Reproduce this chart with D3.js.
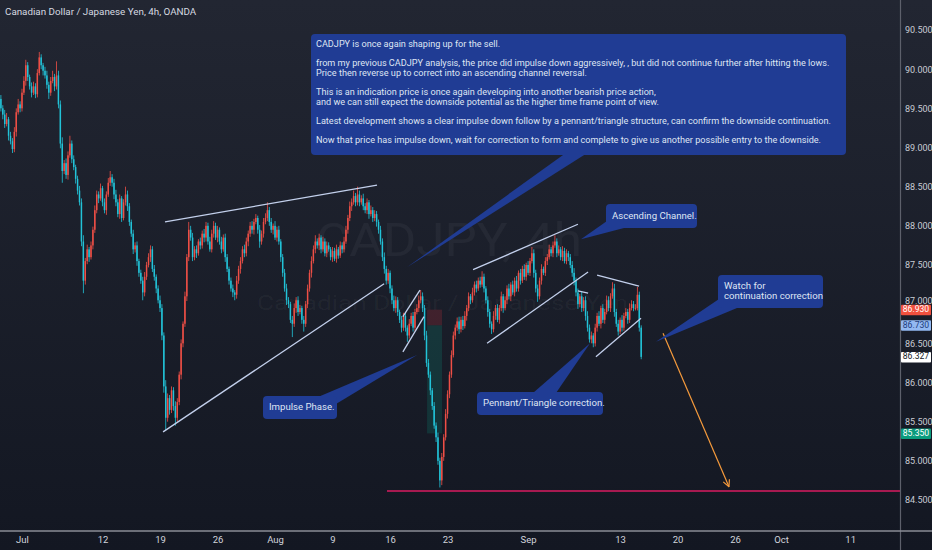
<!doctype html>
<html lang="en">
<head>
  <meta charset="utf-8">
  <title>CADJPY 4h</title>
  <style>
    html, body {
      margin: 0;
      padding: 0;
      background: #131722;
      overflow: hidden;
    }
    svg {
      display: block;
      font-family: Roboto, "Noto Sans", sans-serif;
    }
  </style>
</head>
<body>
  <svg id="chart" width="932" height="550"></svg>

  <script src="https://d3js.org/d3.v7.min.js"></script>
  <script>
    // ---- data ----
    // 4h candles, one close per candle; open = previous close
    const firstOpen = 89.62;
    const closes = [
      89.50,89.42,89.30,89.36,89.15,89.08,88.98,89.20,89.45,89.55,
      89.50,89.70,89.85,90.05,89.90,89.78,89.70,89.78,89.68,89.95,
      90.15,90.05,89.98,89.92,89.80,89.70,89.85,89.90,89.78,89.92,
      89.55,89.05,88.70,88.80,88.65,88.90,89.05,88.85,88.75,88.60,
      88.45,88.30,87.80,87.30,87.55,87.70,87.60,87.75,87.95,88.20,
      88.40,88.35,88.48,88.30,88.20,88.40,88.55,88.62,88.55,88.40,
      88.30,88.15,88.35,88.10,88.30,88.40,88.25,88.05,87.90,87.70,
      87.75,87.55,87.40,87.30,87.15,87.35,87.50,87.60,87.70,87.45,
      87.35,87.20,87.05,86.95,86.60,85.95,85.55,85.80,85.65,85.90,
      85.70,85.55,85.75,86.10,86.50,86.75,87.10,87.60,87.95,87.85,
      87.60,87.70,87.65,87.80,87.75,87.90,87.85,88.00,87.80,87.70,
      87.90,88.00,87.85,87.95,87.80,87.70,87.85,87.60,87.45,87.30,
      87.20,87.15,87.12,87.30,87.45,87.55,87.70,87.65,87.80,87.90,
      88.00,87.95,88.05,88.10,87.95,87.80,87.90,88.05,88.10,88.20,
      88.05,87.95,88.00,87.85,87.95,87.80,87.60,87.40,87.20,87.05,
      87.00,86.80,86.75,86.95,87.05,86.90,86.95,86.80,86.75,87.00,
      87.20,87.40,87.55,87.70,87.80,87.75,87.85,87.70,87.80,87.65,
      87.75,87.70,87.60,87.68,87.58,87.70,87.62,87.75,87.70,87.80,
      87.95,88.10,88.25,88.30,88.38,88.30,88.40,88.30,88.35,88.25,
      88.20,88.30,88.15,88.20,88.10,88.15,88.05,87.95,87.80,87.60,
      87.45,87.30,87.40,87.20,87.05,86.95,87.05,86.90,86.80,86.70,
      86.85,86.70,86.60,86.75,86.85,86.70,86.90,86.95,87.05,87.10,
      86.95,86.60,86.25,86.10,85.90,85.70,85.45,85.30,85.00,84.75,
      85.05,85.30,85.60,85.85,86.10,86.35,86.60,86.70,86.78,86.68,
      86.80,86.72,86.85,86.95,87.10,87.05,87.15,87.25,87.20,87.30,
      87.25,87.35,87.20,87.05,86.90,86.75,86.68,86.85,86.95,86.80,
      86.95,87.10,86.95,87.05,87.20,87.10,87.25,87.15,87.30,87.20,
      87.40,87.30,87.45,87.35,87.50,87.40,87.55,87.65,87.40,87.20,
      87.10,87.30,87.45,87.40,87.55,87.60,87.70,87.65,87.75,87.80,
      87.65,87.70,87.60,87.68,87.55,87.65,87.60,87.50,87.40,87.30,
      87.15,87.00,87.10,86.95,87.05,86.85,86.70,86.55,86.60,86.50,
      86.70,86.85,86.75,86.95,86.80,86.90,87.05,86.95,87.10,87.20,
      86.90,86.75,86.65,86.80,86.70,86.85,86.90,86.80,86.95,87.00,
      86.95,86.95,87.12,86.70,86.327
    ];
    // wick lengths above / below the body, in hundredths of a yen
    const wickUp = [
      5,4,6,8,3,5,4,6,5,7, 4,5,6,7,4,3,5,6,4,5, 7,4,3,5,6,4,5,8,4,18,
      6,5,8,4,6,5,10,4,5,3, 4,6,5,8,4,6,3,5,4,6, 5,4,6,3,5,4,6,8,4,5,
      6,4,5,3,4,10,5,4,3,5, 4,5,3,4,5,6,4,5,5,4, 5,3,4,6,5,4,8,6,4,5,
      4,6,5,4,5,3,6,4,10,5, 6,4,5,3,5,4,6,5,4,6, 5,6,4,5,3,6,4,5,4,3,
      4,5,3,6,4,5,4,6,5,4, 5,6,4,5,3,6,4,5,6,10, 4,5,3,6,4,5,3,4,5,6,
      4,3,5,6,4,5,4,3,5,4, 5,4,6,5,8,4,5,3,6,4, 5,4,3,5,4,6,3,5,4,6,
      5,4,6,5,7,4,10,5,4,6, 4,5,3,6,4,5,4,3,5,4, 6,4,5,3,4,6,5,4,3,5,
      4,5,3,6,4,5,4,5,6,8, 5,4,6,5,4,3,5,4,6,4, 5,4,6,5,4,6,5,4,5,6,
      4,5,6,4,5,3,6,4,5,4, 5,7,4,3,5,4,3,6,4,5, 4,6,3,5,4,6,3,5,4,6,
      3,5,4,6,3,5,4,8,5,4, 5,4,6,3,5,4,6,3,5,8, 4,5,3,6,4,5,3,4,5,6,
      4,5,3,6,4,5,6,4,5,3, 5,4,6,3,5,4,6,5,4,8, 6,4,5,3,6,4,5,4,6,5,
      4,5,10,4,3
    ];
    const wickDn = [
      4,6,5,3,6,4,5,4,6,3, 5,4,3,6,5,4,6,3,5,4, 3,5,6,4,5,8,4,3,6,4,
      5,6,15,4,5,6,3,5,4,6, 5,4,6,16,5,4,6,3,5,4, 4,6,3,5,4,6,3,4,5,6,
      5,4,6,5,3,4,6,5,4,6, 4,6,5,4,10,5,4,3,6,4, 5,6,4,5,6,8,16,5,6,4,
      6,10,5,4,6,5,4,6,5,4, 5,4,6,3,5,4,6,5,4,3, 4,5,3,6,4,5,3,6,4,5,
      4,6,7,5,4,6,3,5,4,6, 4,5,6,3,5,8,4,5,3,4, 5,4,6,3,5,4,6,5,4,6,
      5,4,17,4,6,5,3,5,10,4, 5,4,6,3,5,4,6,5,3,4, 5,3,4,6,3,5,4,3,5,4,
      3,5,4,6,3,5,4,5,3,5, 4,5,6,3,5,4,6,5,4,5, 6,5,4,6,5,4,6,5,4,6,
      4,5,8,4,3,5,4,3,5,4, 5,6,5,4,6,5,4,6,5,9, 6,5,4,6,5,4,3,5,4,6,
      4,5,3,6,4,5,3,4,5,3, 4,3,5,4,6,5,6,4,5,3, 5,4,6,3,5,4,6,3,5,4,
      4,5,3,4,5,3,4,3,6,5, 7,4,5,3,4,5,3,4,5,3, 5,3,4,5,3,4,5,4,5,6,
      5,6,4,5,4,6,5,4,5,5, 4,5,3,6,4,5,3,4,5,3, 6,4,5,3,5,4,3,5,4,3,
      4,3,3,5,3
    ];

    // axes
    const priceTicks = [84.5, 85, 85.5, 86, 86.5, 87, 87.5, 88, 88.5, 89, 89.5, 90, 90.5];
    const dateLabels = ["Jul", "12", "19", "26", "Aug", "9", "16", "23", "Sep", "13", "20", "26", "Oct", "11"];
    const dateIndex  = [11, 53, 83, 113, 143, 173, 203, 233, 275, 323, 353, 383, 407, 443];

    // price-line badges on the right axis: stop, entry, last, target
    const badgeValues = [86.930, 86.730, 86.327, 85.350];

    // drawings, as [candle index, price] pairs
    const trendLines = [
      [85.6, 88.05, 196.2, 88.52],
      [84.6, 85.37, 199.9, 87.26],
      [209.7, 86.84, 218.6, 87.18],
      [209.7, 86.39, 220.7, 86.84],
      [246.3, 87.44, 301.0, 88.02],
      [253.6, 86.50, 306.3, 87.41],
      [301.0, 87.17, 306.3, 87.14],
      [311.0, 87.37, 332.9, 87.23],
      [310.4, 86.33, 333.9, 86.82]
    ];
    const positionBox = { from: 222.3, to: 230.1, stop: 86.93, entry: 86.73, target: 85.35 };
    const targetLevel = { from: 201.4, price: 84.615 };
    const arrowPath = [[345.4, 86.63], [379.8, 84.67]];

    const mainNote = [
      "CADJPY is once again shaping up for the sell.",
      "from my previous CADJPY analysis, the price did impulse down aggressively, , but did not continue further after hitting the lows.",
      "Price then reverse up to correct into an ascending channel reversal.",
      "This is an indication price is once again developing into another bearish price action,",
      "and we can still expect the downside potential as the higher time frame point of view.",
      "Latest development shows a clear impulse down follow by a pennant/triangle structure, can confirm the downside continuation.",
      "Now that price has impulse down, wait for correction to form and complete to give us another possible entry to the downside."
    ];

    // ---- drawing ----
    const W = 932, H = 550, plotR = 900, plotB = 531;
    const svg = d3.select("#chart");

    const defs = svg.append("defs");
    const grad = defs.append("linearGradient").attr("id", "bg")
      .attr("x1", 0).attr("y1", 0).attr("x2", 0).attr("y2", 1);
    grad.append("stop").attr("offset", "0%").attr("stop-color", "#222632");
    grad.append("stop").attr("offset", "100%").attr("stop-color", "#131722");
    defs.append("clipPath").attr("id", "plot")
      .append("rect").attr("width", plotR).attr("height", plotB);
    defs.append("marker").attr("id", "head")
      .attr("viewBox", "0 0 10 10").attr("refX", 9).attr("refY", 5)
      .attr("markerWidth", 7).attr("markerHeight", 7).attr("orient", "auto")
      .append("path").attr("d", "M1,1 L9,5 L1,9").attr("fill", "none")
      .attr("stroke", "#f59a3c").attr("stroke-width", 1.4);

    svg.append("rect").attr("width", W).attr("height", H).attr("fill", "url(#bg)");

    const x = d3.scaleLinear().domain([0, 470]).range([0.9, 0.9 + 470 * 1.917]);
    const y = d3.scaleLinear().domain([84.5, 90.5]).range([500, 30]);

    const plot = svg.append("g").attr("clip-path", "url(#plot)");

    // watermark
    plot.append("text").attr("x", 316).attr("y", 256)
      .attr("textLength", 266).attr("lengthAdjust", "spacingAndGlyphs")
      .attr("font-size", 46).attr("fill", "rgba(255,255,255,0.045)")
      .text("CADJPY, 4h");
    plot.append("text").attr("x", 257).attr("y", 310)
      .attr("textLength", 371).attr("lengthAdjust", "spacingAndGlyphs")
      .attr("font-size", 21).attr("fill", "rgba(255,255,255,0.045)")
      .text("Canadian Dollar / Japanese Yen");

    // position tool
    plot.append("rect")
      .attr("x", x(positionBox.from)).attr("width", x(positionBox.to) - x(positionBox.from))
      .attr("y", y(positionBox.stop)).attr("height", y(positionBox.entry) - y(positionBox.stop))
      .attr("fill", "rgba(242,54,69,0.18)");
    plot.append("rect")
      .attr("x", x(positionBox.from)).attr("width", x(positionBox.to) - x(positionBox.from))
      .attr("y", y(positionBox.entry)).attr("height", y(positionBox.target) - y(positionBox.entry))
      .attr("fill", "rgba(8,153,129,0.2)");

    // candles
    const candles = closes.map((c, i) => {
      const o = i === 0 ? firstOpen : closes[i - 1];
      return {
        i, o, c,
        h: Math.max(o, c) + (wickUp[i] ?? 4) / 100,
        l: Math.min(o, c) - (wickDn[i] ?? 4) / 100
      };
    });
    const upCol = "#ef4f46", dnCol = "#22c3d8";

    const cg = plot.append("g");
    cg.selectAll("rect.wick").data(candles).enter().append("rect")
      .attr("class", "wick")
      .attr("x", d => x(d.i) - 0.4).attr("width", 0.8)
      .attr("y", d => y(d.h)).attr("height", d => y(d.l) - y(d.h))
      .attr("fill", d => d.c >= d.o ? upCol : dnCol);
    cg.selectAll("rect.body").data(candles).enter().append("rect")
      .attr("class", "body")
      .attr("x", d => x(d.i) - 0.75).attr("width", 1.5)
      .attr("y", d => y(Math.max(d.o, d.c)))
      .attr("height", d => Math.max(1, Math.abs(y(d.o) - y(d.c))))
      .attr("fill", d => d.c >= d.o ? upCol : dnCol);

    // trend lines
    plot.selectAll("line.trend").data(trendLines).enter().append("line")
      .attr("class", "trend")
      .attr("x1", d => x(d[0])).attr("y1", d => y(d[1]))
      .attr("x2", d => x(d[2])).attr("y2", d => y(d[3]))
      .attr("stroke", "#c3d0ec").attr("stroke-width", 1.3);

    // target level
    plot.append("line")
      .attr("x1", x(targetLevel.from)).attr("x2", plotR)
      .attr("y1", y(targetLevel.price)).attr("y2", y(targetLevel.price))
      .attr("stroke", "#d81b60").attr("stroke-width", 1.6);

    // arrow
    plot.append("line")
      .attr("x1", x(arrowPath[0][0])).attr("y1", y(arrowPath[0][1]))
      .attr("x2", x(arrowPath[1][0])).attr("y2", y(arrowPath[1][1]))
      .attr("stroke", "#f59a3c").attr("stroke-width", 1.2)
      .attr("marker-end", "url(#head)");

    // callouts
    const boxFill = "#203c94", noteText = "#dfe5f3";
    function callout(box, base, tip) {
      const g = svg.append("g");
      g.append("path")
        .attr("d", `M${base[0][0]},${base[0][1]} L${x(tip[0])},${y(tip[1])} L${base[1][0]},${base[1][1]} Z`)
        .attr("fill", boxFill);
      g.append("rect").attr("x", box.x).attr("y", box.y)
        .attr("width", box.w).attr("height", box.h).attr("rx", 4)
        .attr("fill", boxFill);
      return g;
    }

    const main = callout({ x: 311, y: 34, w: 535, h: 121 }, [[570, 150], [592, 150]], [211.8, 87.47]);
    const lineY = [45, 63.5, 73.5, 92.5, 102.5, 122, 141];
    const mt = main.selectAll("text").data(mainNote).enter().append("text")
      .attr("x", 316).attr("y", (d, i) => lineY[i])
      .attr("dominant-baseline", "middle")
      .attr("font-size", 10).attr("fill", noteText)
      .text(d => d);
    // fit the widest line to the box width
    const widest = mt.nodes()[1].getComputedTextLength();
    mt.attr("font-size", 10 * 514 / widest);

    const smallNotes = [
      { box: { x: 606, y: 204, w: 91, h: 24 }, base: [[607, 221], [624, 228]], tip: [302.6, 87.83], lines: ["Ascending Channel."] },
      { box: { x: 718, y: 275, w: 105, h: 33 }, base: [[719, 299], [737, 308]], tip: [341.7, 86.52], lines: ["Watch for", "continuation correction"] },
      { box: { x: 263, y: 396, w: 74, h: 23 }, base: [[318, 397], [336, 404]], tip: [217.1, 86.35], lines: ["Impulse Phase."] },
      { box: { x: 477, y: 392, w: 126, h: 23 }, base: [[533, 393], [556, 393]], tip: [307.3, 86.50], lines: ["Pennant/Triangle correction."] }
    ];
    smallNotes.forEach(n => {
      const g = callout(n.box, n.base, n.tip);
      const n0 = n.lines.length;
      g.selectAll("text").data(n.lines).enter().append("text")
        .attr("x", n.box.x + 6)
        .attr("y", (d, i) => n.box.y + n.box.h / 2 + (i - (n0 - 1) / 2) * 10)
        .attr("dominant-baseline", "middle")
        .attr("font-size", 9.6).attr("fill", noteText)
        .text(d => d);
    });

    // separators
    svg.append("line").attr("x1", plotR + 0.5).attr("x2", plotR + 0.5).attr("y1", 0).attr("y2", H)
      .attr("stroke", "#5d606b").attr("stroke-width", 1.2);
    svg.append("line").attr("x1", 0).attr("x2", W).attr("y1", plotB).attr("y2", plotB)
      .attr("stroke", "#8a8d96").attr("stroke-width", 1.6);

    // price axis; the 87.000 label sits under the stop badge, as in the picture
    const yAxis = svg.append("g").attr("transform", `translate(${plotR},0)`)
      .call(d3.axisRight(y).tickValues(priceTicks).tickFormat(d3.format(".3f")).tickSize(0).tickPadding(5));
    yAxis.select(".domain").remove();
    yAxis.selectAll("text").attr("fill", "#c9ccd4").attr("font-size", 9)
      .attr("font-family", "Roboto, sans-serif");
    yAxis.selectAll(".tick").filter(d => d === 87).attr("transform", `translate(0,${y(87) - 3})`);

    // time axis
    const xAxis = svg.append("g").attr("transform", `translate(0,${plotB})`)
      .call(d3.axisBottom(x).tickValues(dateIndex).tickFormat((d, i) => dateLabels[i]).tickSize(0).tickPadding(5));
    xAxis.select(".domain").remove();
    xAxis.selectAll("text").attr("fill", "#d1d4dc").attr("font-size", 9.5)
      .attr("font-family", "Roboto, sans-serif");

    // badges
    const badgeFill = ["#f0503e", "#93b9f2", "#ffffff", "#0a9b7d"];
    const badgeInk = ["#ffffff", "#1d3b7a", "#131722", "#ffffff"];
    const bg = svg.append("g").selectAll("g").data(badgeValues).enter().append("g")
      .attr("transform", d => `translate(${plotR + 1},${y(d)})`);
    bg.append("rect").attr("x", 0).attr("y", -5).attr("width", 30).attr("height", 10.5)
      .attr("rx", 1).attr("fill", (d, i) => badgeFill[i]);
    bg.append("text").attr("x", 15).attr("y", 0.3).attr("dominant-baseline", "middle")
      .attr("text-anchor", "middle")
      .attr("font-size", 8.6).attr("fill", (d, i) => badgeInk[i])
      .text(d => d3.format(".3f")(d));

    // title
    svg.append("text").attr("x", 5).attr("y", 12)
      .attr("dominant-baseline", "middle")
      .attr("font-size", 9.8).attr("fill", "#d6d9e0")
      .text("Canadian Dollar / Japanese Yen, 4h, OANDA");
  </script>
</body>
</html>
